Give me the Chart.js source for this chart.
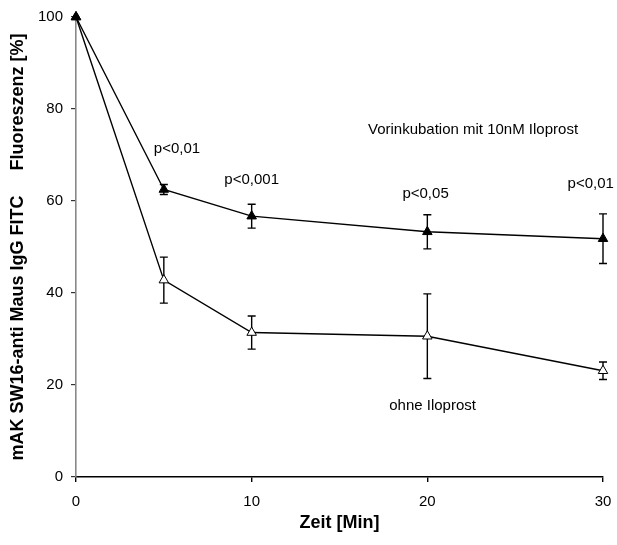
<!DOCTYPE html>
<html>
<head>
<meta charset="utf-8">
<script src="https://cdn.jsdelivr.net/npm/chart.js@4"></script>
<style>
  html, body { margin: 0; padding: 0; background: #fff; }
  #wrap { width: 617px; height: 545px; }
</style>
</head>
<body>
<div id="wrap"><canvas id="c" width="617" height="545"></canvas></div>
<script>
// Zeitpunkte (Minuten)
const zeit = [0, 5, 10, 20, 30];
// Fluoreszenz [%] nach Vorinkubation mit 10nM Iloprost, Mittelwert und Fehler
const mitIloprost = [100, 62.5, 56.7, 53.3, 51.8];
const mitIloprostFehler = [0, 1.1, 2.6, 3.7, 5.4];
// Fluoreszenz [%] ohne Iloprost, Mittelwert und Fehler
const ohneIloprost = [100, 42.8, 31.4, 30.6, 23.1];
const ohneIloprostFehler = [0, 5.0, 3.6, 9.2, 1.9];
// Signifikanz je Zeitpunkt (ab 5 min)
const pWerte = ['p<0,01', 'p<0,001', 'p<0,05', 'p<0,01'];
// Achsenbeschriftungen
const xTicks = [0, 10, 20, 30];
const yTicks = [0, 20, 40, 60, 80, 100];

const FONT = '"Liberation Sans", Arial, sans-serif';

const toPoints = (ys) => zeit.map((x, i) => ({ x, y: ys[i] }));

// vertical error bars with caps, drawn beneath the markers
const errorBars = {
  id: 'errorBars',
  beforeDatasetsDraw(chart) {
    const { ctx, scales: { x, y } } = chart;
    const sets = [[mitIloprost, mitIloprostFehler], [ohneIloprost, ohneIloprostFehler]];
    ctx.save();
    ctx.strokeStyle = '#000';
    ctx.lineWidth = 1.4;
    const cap = 4;
    sets.forEach(([vals, errs]) => {
      vals.forEach((v, i) => {
        if (!errs[i]) return;
        const px = x.getPixelForValue(zeit[i]);
        const top = y.getPixelForValue(v + errs[i]);
        const bot = y.getPixelForValue(v - errs[i]);
        ctx.beginPath();
        ctx.moveTo(px, top); ctx.lineTo(px, bot);
        ctx.moveTo(px - cap, top); ctx.lineTo(px + cap, top);
        ctx.moveTo(px - cap, bot); ctx.lineTo(px + cap, bot);
        ctx.stroke();
      });
    });
    ctx.restore();
  }
};

// text labels placed in data coordinates
const notes = [
  { text: pWerte[0], x: 5.75, y: 71.4 },
  { text: pWerte[1], x: 10.0, y: 64.6 },
  { text: pWerte[2], x: 19.9, y: 61.6 },
  { text: pWerte[3], x: 29.3, y: 63.8 },
  { text: 'Vorinkubation mit 10nM Iloprost', x: 22.6, y: 75.5 },
  { text: 'ohne Iloprost', x: 20.3, y: 15.4 }
];
const textLabels = {
  id: 'textLabels',
  afterDatasetsDraw(chart) {
    const { ctx, scales: { x, y } } = chart;
    ctx.save();
    ctx.fillStyle = '#000';
    ctx.font = '15px ' + FONT;
    ctx.textAlign = 'center';
    ctx.textBaseline = 'middle';
    notes.forEach(n => ctx.fillText(n.text, x.getPixelForValue(n.x), y.getPixelForValue(n.y)));
    ctx.restore();
  }
};

new Chart(document.getElementById('c'), {
  type: 'scatter',
  data: {
    datasets: [
      {
        label: 'Vorinkubation mit 10nM Iloprost',
        data: toPoints(mitIloprost),
        showLine: true,
        borderColor: '#000',
        borderWidth: 1.4,
        pointStyle: 'triangle',
        pointRadius: 5.5,
        pointBackgroundColor: '#000',
        pointBorderColor: '#000',
        pointBorderWidth: 1,
        clip: false
      },
      {
        label: 'ohne Iloprost',
        data: toPoints(ohneIloprost),
        showLine: true,
        borderColor: '#000',
        borderWidth: 1.4,
        pointStyle: 'triangle',
        pointRadius: 5.5,
        pointBackgroundColor: '#fff',
        pointBorderColor: '#000',
        pointBorderWidth: 1,
        clip: false
      }
    ]
  },
  options: {
    responsive: false,
    animation: false,
    layout: { padding: { top: 15, right: 14, left: 0, bottom: 0 } },
    plugins: { legend: { display: false }, tooltip: { enabled: false } },
    scales: {
      x: {
        type: 'linear',
        min: 0, max: 30,
        afterBuildTicks: (s) => { s.ticks = xTicks.map(v => ({ value: v })); },
        afterFit: (s) => { s.height = 68; s.paddingLeft = 0; s.paddingRight = 0; },
        grid: { drawOnChartArea: false, drawTicks: true, tickLength: 5, color: '#000', lineWidth: 1.4 },
        border: { display: true, color: '#000', width: 1.6 },
        ticks: { color: '#000', padding: 11, font: { family: FONT, size: 15 }, maxRotation: 0 },
        title: {
          display: true,
          text: 'Zeit [Min]',
          color: '#000',
          font: { family: FONT, size: 18, weight: 'bold' },
          padding: { top: 0, bottom: 11 }
        }
      },
      y: {
        type: 'linear',
        min: 0, max: 100,
        afterBuildTicks: (s) => { s.ticks = yTicks.map(v => ({ value: v })); },
        afterFit: (s) => { s.width = 76; },
        grid: { drawOnChartArea: false, drawTicks: true, tickLength: 5, color: '#333', lineWidth: 1.2 },
        border: { display: true, color: '#888', width: 1.6 },
        ticks: { color: '#000', padding: 8, font: { family: FONT, size: 15 } },
        title: {
          display: true,
          text: 'mAK SW16-anti Maus IgG FITC     Fluoreszenz [%]',
          color: '#000',
          font: { family: FONT, size: 18, weight: 'bold' },
          padding: { top: 7, bottom: 0 }
        }
      }
    }
  },
  plugins: [errorBars, textLabels]
});
</script>
</body>
</html>
